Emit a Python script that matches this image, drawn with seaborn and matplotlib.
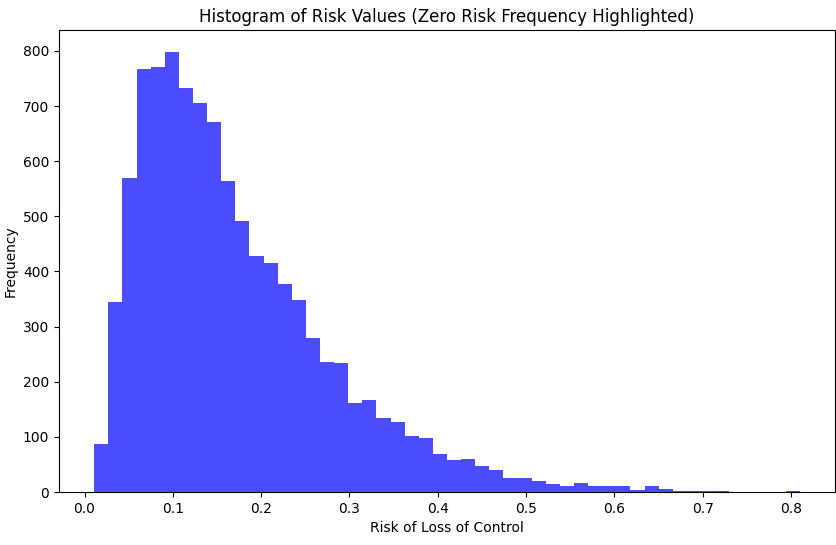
import numpy as np
import pandas as pd
import matplotlib
matplotlib.use("Agg")
import matplotlib.pyplot as plt
import seaborn as sns

# counts, 50 equal bins between risk_min and risk_max
risk_min = 0.011
risk_max = 0.810
counts = [87, 345, 569, 767, 770, 798, 733, 706, 671, 564,
          491, 428, 416, 377, 348, 280, 236, 234, 162, 166,
          135, 127, 102, 98, 69, 58, 60, 47, 40, 26,
          26, 20, 15, 10, 17, 11, 10, 10, 4, 10,
          6, 2, 1, 2, 2, 0, 0, 0, 0, 1]

edges = np.linspace(risk_min, risk_max, len(counts) + 1)
centers = (edges[:-1] + edges[1:]) / 2
df = pd.DataFrame({"risk": centers, "count": counts})

fig = plt.figure(figsize=(8.36, 5.45), dpi=100)
# axes box matched to the reference crop (pixels: left 59, right 835, top 30, bottom 492)
ax = fig.add_axes([59 / 836, 53 / 545, 776 / 836, 462 / 545])

# bins as a plain list: seaborn compares bins to "auto" when weights are given
sns.histplot(data=df, x="risk", weights="count", bins=list(edges), ax=ax,
             color="blue", alpha=0.7, linewidth=0, stat="count")

ax.set_title("Histogram of Risk Values (Zero Risk Frequency Highlighted)")
ax.set_xlabel("Risk of Loss of Control")
ax.set_ylabel("Frequency")

plt.savefig("out.png", dpi=100)
plt.close()
